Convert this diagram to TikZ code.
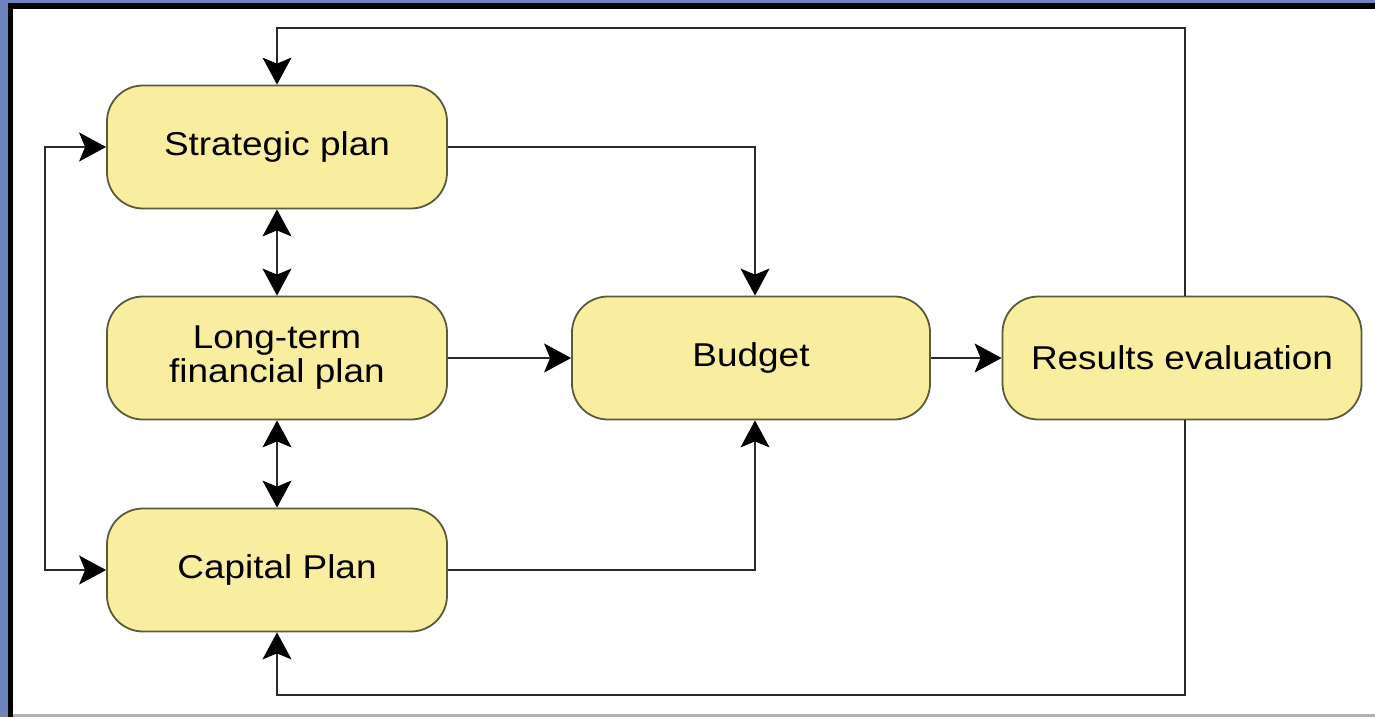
\documentclass[tikz,border=0pt]{standalone}
\usepackage{fontspec}
\setmainfont{Liberation Sans}
\newfontfamily\labfont[FakeStretch=1.12]{Liberation Sans}
\usetikzlibrary{arrows.meta}
\definecolor{bgblue}{HTML}{6D84BF}
\definecolor{boxfill}{HTML}{F9EEA0}
\definecolor{boxline}{HTML}{5A5A3C}
\definecolor{lineclr}{HTML}{2A2A2A}
\tikzset{
  block/.style={draw=boxline, line width=1.8pt, fill=boxfill, rounded corners=36pt,
    minimum height=123pt, inner sep=0pt, align=center,
    font=\labfont\fontsize{33}{34}\selectfont, text=black},
  conn/.style={draw=lineclr, line width=1.4pt},
  tip/.style={-{Stealth[length=27pt,width=29pt,inset=6pt,color=black]}},
  bitip/.style={{Stealth[length=27pt,width=29pt,inset=6pt,color=black]}-{Stealth[length=27pt,width=29pt,inset=6pt,color=black]}}
}
\begin{document}
\begin{tikzpicture}[x=1pt,y=-1pt]
\useasboundingbox (0,0) rectangle (1375,717);
\fill[bgblue] (0,0) rectangle (1375,717);
\fill[white] (10,6) rectangle (1375,715);
\fill[black] (8,3) rectangle (13,717);
\fill[black] (8,3) rectangle (1375,9);
\fill[gray!60] (13,714) rectangle (1375,717);

\node[block, minimum width=340pt] (sp) at (277,147) {Strategic plan};
\node[block, minimum width=340pt] (lt) at (277,358) {Long-term\\financial plan};
\node[block, minimum width=340pt] (cp) at (277,570) {Capital Plan};
\node[block, minimum width=358pt] (bud) at (751,358) {Budget};
\node[block, minimum width=359pt] (res) at (1182,358) {Results evaluation};

\coordinate (rt) at ([xshift=3pt]res.north);
\coordinate (rb) at ([xshift=3pt]res.south);
\coordinate (bt) at ([xshift=4pt]bud.north);
\coordinate (bb) at ([xshift=4pt]bud.south);
\coordinate (tr) at (1185,28);
\coordinate (tl) at (277,28);
\coordinate (br) at (1185,695);
\coordinate (bl) at (277,695);
\coordinate (la) at (45,147);
\coordinate (lb) at (45,570);

\draw[conn, tip] (rt) -- (tr) -- (tl) -- (sp.north);
\draw[conn, tip] (rb) -- (br) -- (bl) -- (cp.south);
\draw[conn, bitip] (sp.west) -- (la) -- (lb) -- (cp.west);
\draw[conn, bitip] (sp.south) -- (lt.north);
\draw[conn, bitip] (lt.south) -- (cp.north);
\draw[conn, tip] (sp.east) -| (bt);
\draw[conn, tip] (cp.east) -| (bb);
\draw[conn, tip] (lt.east) -- (bud.west);
\draw[conn, tip] (bud.east) -- (res.west);
\end{tikzpicture}
\end{document}
